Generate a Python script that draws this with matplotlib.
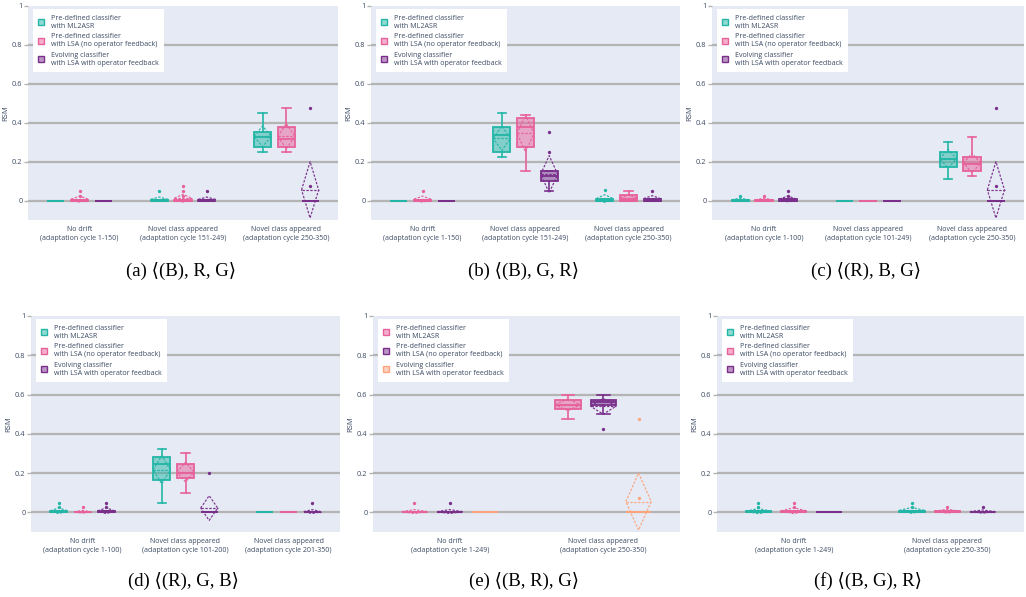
import matplotlib.pyplot as plt
from matplotlib.patches import Patch
from matplotlib.colors import to_rgba

plt.rcParams['font.family'] = ['Open Sans', 'DejaVu Sans']

TEAL = '#23b6a6'
PINK = '#e8619b'
PURPLE = '#7a2f8b'
ORANGE = '#fda57c'
BG = '#e5eaf4'
GRID = '#b4b4b4'
TXT = '#3b4a63'

names = ['Pre-defined classifier\nwith ML2ASR',
         'Pre-defined classifier\nwith LSA (no operator feedback)',
         'Evolving classifier\nwith LSA with operator feedback']

# box stats per series, per category: (whislo, q1, median, q3, whishi, mean, sd)
cats_a = ['No drift\n(adaptation cycle 1-150)', 'Novel class appeared\n(adaptation cycle 151-249)',
          'Novel class appeared\n(adaptation cycle 250-350)']
stats_a = [
    [(0, 0, 0, 0, 0, 0, 0), (0, 0, 0, 0.005, 0.005, 0.006, 0.012), (0.25, 0.277, 0.325, 0.35, 0.45, 0.33, 0.053)],
    [(0, 0, 0, 0.003, 0.003, 0.007, 0.016), (0, 0, 0, 0.005, 0.005, 0.012, 0.02), (0.25, 0.277, 0.316, 0.376, 0.475, 0.33, 0.065)],
    [(0, 0, 0, 0, 0, 0, 0), (0, 0, 0, 0.005, 0.005, 0.006, 0.012), (0, 0, 0, 0, 0, 0.055, 0.145)],
]
fliers_a = [
    [[], [0.05], []],
    [[0.05, 0.025], [0.075, 0.05, 0.025], []],
    [[], [0.05], [0.475, 0.075]],
]

cats_b = ['No drift\n(adaptation cycle 1-150)', 'Novel class appeared\n(adaptation cycle 151-249)',
          'Novel class appeared\n(adaptation cycle 250-350)']
stats_b = [
    [(0, 0, 0, 0, 0, 0, 0), (0.222, 0.25, 0.335, 0.376, 0.45, 0.32, 0.063), (0, 0, 0, 0.008, 0.008, 0.01, 0.02)],
    [(0, 0, 0, 0.003, 0.003, 0.007, 0.016), (0.15, 0.277, 0.376, 0.425, 0.44, 0.345, 0.095), (0, 0, 0.01, 0.026, 0.05, 0.013, 0.016)],
    [(0, 0, 0, 0, 0, 0, 0), (0.05, 0.1, 0.126, 0.15, 0.15, 0.135, 0.096), (0, 0, 0, 0.008, 0.008, 0.01, 0.015)],
]
fliers_b = [
    [[], [], [0.055]],
    [[0.05], [], []],
    [[], [0.35, 0.25], [0.05]],
]

cats_c = ['No drift\n(adaptation cycle 1-100)', 'Novel class appeared\n(adaptation cycle 101-249)',
          'Novel class appeared\n(adaptation cycle 250-350)']
stats_c = [
    [(0, 0, 0, 0.003, 0.003, 0.004, 0.008), (0, 0, 0, 0, 0, 0, 0), (0.11, 0.175, 0.212, 0.25, 0.3, 0.215, 0.047)],
    [(0, 0, 0, 0.003, 0.003, 0.004, 0.008), (0, 0, 0, 0, 0, 0, 0), (0.125, 0.15, 0.19, 0.226, 0.325, 0.193, 0.05)],
    [(0, 0, 0, 0.008, 0.008, 0.008, 0.015), (0, 0, 0, 0, 0, 0, 0), (0, 0, 0, 0, 0, 0.055, 0.145)],
]
fliers_c = [
    [[0.025], [], []],
    [[0.025], [], []],
    [[0.05, 0.025], [], [0.475, 0.075]],
]

cats_d = ['No drift\n(adaptation cycle 1-100)', 'Novel class appeared\n(adaptation cycle 101-200)',
          'Novel class appeared\n(adaptation cycle 201-350)']
stats_d = [
    [(0, 0, 0, 0.008, 0.008, 0.008, 0.015), (0.05, 0.166, 0.248, 0.282, 0.325, 0.217, 0.072), (0, 0, 0, 0, 0, 0, 0)],
    [(0, 0, 0, 0.002, 0.002, 0.003, 0.007), (0.1, 0.174, 0.2, 0.248, 0.3, 0.205, 0.05), (0, 0, 0, 0, 0, 0, 0)],
    [(0, 0, 0, 0.008, 0.008, 0.008, 0.015), (0, 0, 0, 0, 0, 0.022, 0.063), (0, 0, 0, 0.003, 0.003, 0.004, 0.01)],
]
fliers_d = [
    [[0.05, 0.025], [], []],
    [[0.025], [], []],
    [[0.05, 0.025], [0.2], [0.05]],
]

cats_e = ['No drift\n(adaptation cycle 1-249)', 'Novel class appeared\n(adaptation cycle 250-350)']
stats_e = [
    [(0, 0, 0, 0.003, 0.003, 0.004, 0.01), (0.473, 0.525, 0.549, 0.573, 0.598, 0.548, 0.03)],
    [(0, 0, 0, 0.003, 0.003, 0.004, 0.01), (0.5, 0.545, 0.56, 0.573, 0.598, 0.54, 0.04)],
    [(0, 0, 0, 0, 0, 0, 0), (0, 0, 0, 0, 0, 0.055, 0.145)],
]
fliers_e = [
    [[0.05], []],
    [[0.05], [0.425]],
    [[], [0.475, 0.075]],
]

cats_f = ['No drift\n(adaptation cycle 1-249)', 'Novel class appeared\n(adaptation cycle 250-350)']
stats_f = [
    [(0, 0, 0, 0.005, 0.005, 0.006, 0.013), (0, 0, 0, 0.008, 0.008, 0.01, 0.015)],
    [(0, 0, 0, 0.006, 0.006, 0.008, 0.015), (0, 0, 0, 0.005, 0.005, 0.006, 0.01)],
    [(0, 0, 0, 0, 0, 0, 0), (0, 0, 0, 0.003, 0.003, 0.004, 0.008)],
]
fliers_f = [
    [[0.05, 0.025], [0.05, 0.025]],
    [[0.05, 0.025], [0.025]],
    [[], [0.025]],
]

captions = ['(a) ⟨(B), R, G⟩', '(b) ⟨(B), G, R⟩', '(c) ⟨(R), B, G⟩',
            '(d) ⟨(R), G, B⟩', '(e) ⟨(B, R), G⟩', '(f) ⟨(B, G), R⟩']

panels = [
    (cats_a, stats_a, fliers_a, [TEAL, PINK, PURPLE]),
    (cats_b, stats_b, fliers_b, [TEAL, PINK, PURPLE]),
    (cats_c, stats_c, fliers_c, [TEAL, PINK, PURPLE]),
    (cats_d, stats_d, fliers_d, [TEAL, PINK, PURPLE]),
    (cats_e, stats_e, fliers_e, [PINK, PURPLE, ORANGE]),
    (cats_f, stats_f, fliers_f, [TEAL, PINK, PURPLE]),
]

# plot areas in pixels: left, right, top, bottom
W, H = 1026, 597
boxes_px = [(28, 338, 6, 220), (371, 680, 6, 220), (712, 1024, 6, 220),
            (31, 340, 316, 532), (373, 680, 316, 532), (717, 1024, 316, 532)]

fig = plt.figure(figsize=(W / 100, H / 100), dpi=100)

offsets = [-0.23, 0, 0.23]
w = 0.165

for (l, r, t, b), (cats, stats, fliers, colors), cap in zip(boxes_px, panels, captions):
    ax = fig.add_axes([l / W, 1 - b / H, (r - l) / W, (b - t) / H])
    ax.set_facecolor(BG)
    for s, (series, fl, col) in enumerate(zip(stats, fliers, colors)):
        pos = [c + offsets[s] for c in range(len(series))]
        bstats = [dict(whislo=lo, q1=q1, med=med, q3=q3, whishi=hi, fliers=fl[c])
                  for c, (lo, q1, med, q3, hi, mean, sd) in enumerate(series)]
        ax.bxp(bstats, positions=pos, widths=w, capwidths=w * 0.5, patch_artist=True,
               manage_ticks=False,
               boxprops=dict(facecolor=to_rgba(col, 0.5), edgecolor=col, linewidth=1.3),
               medianprops=dict(color=col, linewidth=1.3),
               whiskerprops=dict(color=col, linewidth=1.2),
               capprops=dict(color=col, linewidth=1.2),
               flierprops=dict(marker='o', markersize=2.4, markerfacecolor=col,
                               markeredgecolor='none'))
        # mean line and sd diamond
        for x, st in zip(pos, series):
            mean, sd = st[5], st[6]
            if sd == 0:
                continue
            ax.plot([x - w / 2, x + w / 2], [mean, mean], color=col, lw=0.85, ls=(0, (2, 1.3)))
            ax.plot([x - w / 2, x, x + w / 2, x, x - w / 2],
                    [mean, mean + sd, mean, mean - sd, mean],
                    color=col, lw=0.85, ls=(0, (2, 1.3)))

    ax.set_xlim(-0.5, len(cats) - 0.5)
    ax.set_ylim(-0.1, 1.0)
    ax.set_yticks([0, 0.2, 0.4, 0.6, 0.8, 1])
    ax.set_yticklabels(['0', '0.2', '0.4', '0.6', '0.8', '1'])
    ax.set_xticks(range(len(cats)))
    ax.set_xticklabels(cats, fontsize=5, color=TXT, linespacing=1.4)
    ax.tick_params(axis='x', length=0, pad=4)
    ax.tick_params(axis='y', length=3, width=1, color=GRID, labelsize=5.3, labelcolor=TXT, pad=1)
    for yv in [0, 0.2, 0.4, 0.6, 0.8]:
        ax.axhline(yv, color=GRID, lw=1.6, zorder=0.5)
    for sp in ax.spines.values():
        sp.set_visible(False)
    ax.set_ylabel('RSM', fontsize=5.5, color=TXT, labelpad=2)

    handles = [Patch(facecolor=to_rgba(c, 0.5), edgecolor=c, linewidth=1) for c in colors]
    leg = ax.legend(handles, names, loc='upper left', bbox_to_anchor=(0.015, 0.985),
                    fontsize=5.1, frameon=True, fancybox=False, framealpha=1,
                    edgecolor='none', facecolor='white', handlelength=0.9, handleheight=0.9,
                    handletextpad=0.9, labelspacing=0.5, borderpad=0.75, borderaxespad=0)
    for txt in leg.get_texts():
        txt.set_color(TXT)

    cx = (l + r) / 2 / W - 0.002
    cy = 1 - (271 if t < 100 else 581) / H
    fig.text(cx, cy, cap, ha='center', va='center', fontsize=13.5,
             family=['Liberation Serif', 'DejaVu Serif', 'DejaVu Sans'])

fig.savefig('out.png', dpi=100)
